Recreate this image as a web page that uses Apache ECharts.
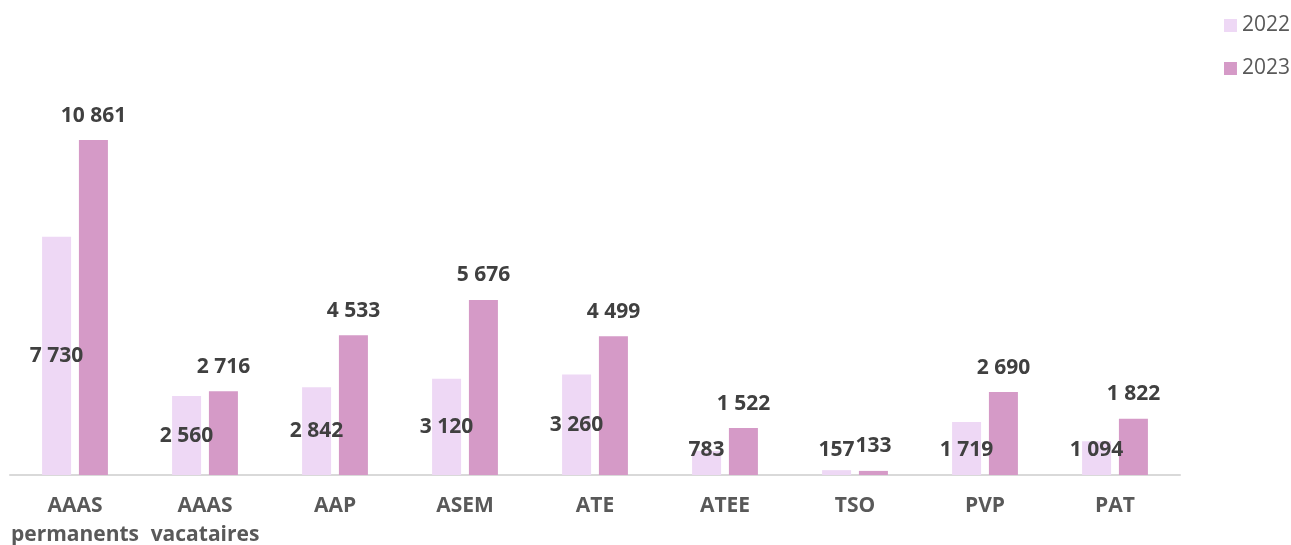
<!DOCTYPE html>
<html>
<head>
<meta charset="utf-8">
<script src="https://cdn.jsdelivr.net/npm/echarts@6/dist/echarts.min.js"></script>
<style>
  html, body { margin: 0; padding: 0; background: #fff; overflow: hidden; }
  #chart { width: 1291px; height: 545px; }
</style>
</head>
<body>
<div id="chart"></div>
<script>
const categories = ['AAAS\npermanents', 'AAAS\nvacataires', 'AAP', 'ASEM', 'ATE', 'ATEE', 'TSO', 'PVP', 'PAT']
const values2022 = [7730, 2560, 2842, 3120, 3260, 783, 157, 1719, 1094]
const values2023 = [10861, 2716, 4533, 5676, 4499, 1522, 133, 2690, 1822]

const fmt = (v) => String(v).replace(/\B(?=(\d{3})+(?!\d))/g, ' ')

const labelStyle = {
  show: true,
  color: '#404040',
  fontFamily: 'Open Sans',
  fontWeight: 'bold',
  fontSize: 21,
  formatter: (p) => fmt(p.value),
}

const chart = echarts.init(document.getElementById('chart'))

chart.setOption({
  animation: false,
  grid: { left: 10, right: 111, top: 105, bottom: 70, outerBoundsMode: 'none' },
  legend: {
    data: ['2022', '2023'],
    orient: 'vertical',
    right: 1,
    top: 15,
    padding: 0,
    itemWidth: 13,
    itemHeight: 13,
    itemGap: 22,
    icon: 'rect',
    textStyle: { color: '#595959', fontSize: 21, fontFamily: 'Open Sans' },
  },
  xAxis: {
    type: 'category',
    data: categories,
    axisLine: { lineStyle: { color: '#d9d9d9', width: 2 } },
    axisTick: { show: false },
    axisLabel: {
      color: '#595959',
      fontFamily: 'Open Sans',
      fontWeight: 'bold',
      fontSize: 21,
      lineHeight: 29,
      margin: 17,
      interval: 0,
    },
  },
  yAxis: {
    type: 'value',
    min: 0,
    max: 12000,
    show: false,
    splitLine: { show: false },
  },
  series: [
    {
      name: '2022',
      type: 'bar',
      barWidth: 29,
      barGap: '27%',
      itemStyle: { color: '#EED8F5' },
      data: values2022.map((v) => ({
        value: v,
        label: v < 1800
          ? { ...labelStyle, position: 'insideBottom', distance: 14 }
          : { ...labelStyle, position: 'inside' },
      })),
    },
    {
      name: '2023',
      type: 'bar',
      barWidth: 29,
      itemStyle: { color: '#D59AC7' },
      label: { ...labelStyle, position: 'top', distance: 14 },
      data: values2023,
    },
  ],
})
</script>
</body>
</html>
